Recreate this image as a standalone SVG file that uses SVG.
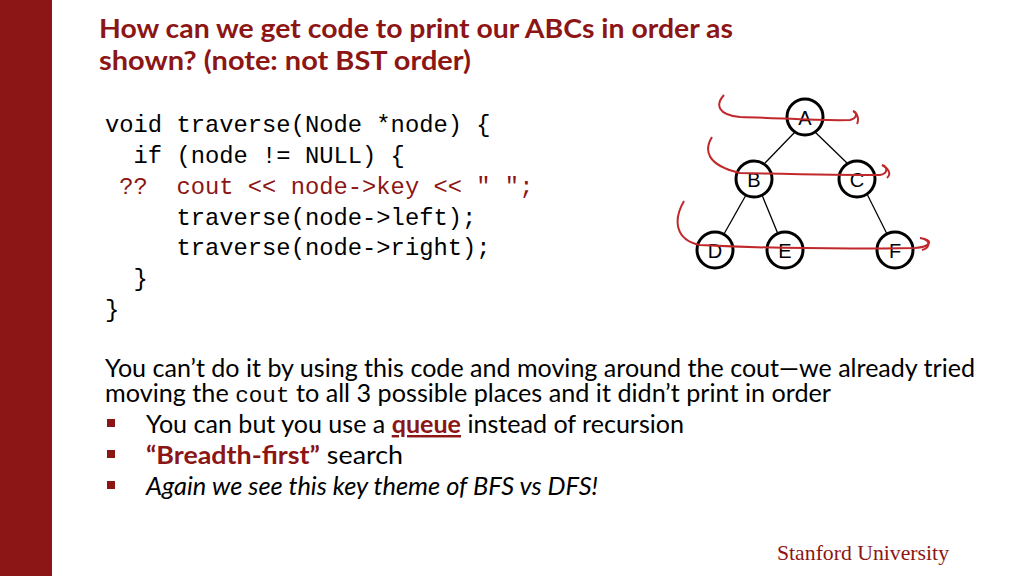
<svg xmlns="http://www.w3.org/2000/svg" width="1024" height="576" viewBox="0 0 1024 576">
<style>
.t{font-family:Lato,"Open Sans",sans-serif;font-weight:bold;fill:#8c1515;font-size:26px}
.c{font-family:"Liberation Mono",monospace;font-size:23.8px;fill:#000;white-space:pre}
.b{font-family:Lato,"Open Sans",sans-serif;font-size:24.5px;fill:#000}
.n circle{fill:#fff;stroke:#000;stroke-width:3}
.n text{font-family:"Liberation Sans",sans-serif;font-size:20px;text-anchor:middle}
.e line{stroke:#000;stroke-width:1.3}
.r{fill:none;stroke:#c0282b;stroke-width:2}
</style>
<rect width="1024" height="576" fill="#fff"/>
<rect x="0" y="0" width="52" height="576" fill="#8c1515"/>
<text class="t" x="99" y="38" textLength="634" lengthAdjust="spacingAndGlyphs">How can we get code to print our ABCs in order as</text>
<text class="t" x="99" y="70" textLength="372" lengthAdjust="spacingAndGlyphs">shown? (note: not BST order)</text>
<text class="c" x="105" y="132">void traverse(Node *node) {</text>
<text class="c" x="105" y="163">  if (node != NULL) {</text>
<text class="c" x="105" y="194" style="fill:#8c1515"> ??  cout &lt;&lt; node-&gt;key &lt;&lt; " ";</text>
<text class="c" x="105" y="225">     traverse(node-&gt;left);</text>
<text class="c" x="105" y="255">     traverse(node-&gt;right);</text>
<text class="c" x="105" y="286">  }</text>
<text class="c" x="105" y="317">}</text>
<g id="connectors" class="e">
<line x1="795" y1="132" x2="765" y2="163"/>
<line x1="815" y1="132" x2="847" y2="163"/>
<line x1="746" y1="195" x2="724" y2="234"/>
<line x1="762" y1="195" x2="778" y2="234"/>
<line x1="867" y1="194" x2="887" y2="234"/>
</g>
<g id="A" class="n"><circle cx="805" cy="117" r="18"/><text x="805" y="125">A</text></g>
<g id="B" class="n"><circle cx="754" cy="179" r="18"/><text x="754" y="187">B</text></g>
<g id="C" class="n"><circle cx="857" cy="179" r="18"/><text x="857" y="187">C</text></g>
<g id="D" class="n"><circle cx="715" cy="250" r="18"/><text x="715" y="258">D</text></g>
<g id="E" class="n"><circle cx="785" cy="250" r="18"/><text x="785" y="258">E</text></g>
<g id="F" class="n"><circle cx="895" cy="250" r="18"/><text x="895" y="258">F</text></g>
<path class="r" d="M724 95 C715 105 718 115 740 117 C780 118 820 121 850 120 C858 118 857 112 853 111 C858 113 859 120 857 124"/>
<path class="r" d="M712 137 C704 150 706 165 740 173 C790 174 840 175 880 175 C889 173 887 166 882 165 C888 168 892 174 887 178"/>
<path class="r" d="M684 201 C673 220 675 240 700 245 C760 248 850 249 915 248 C930 247 935 240 920 238 C932 240 930 248 922 250"/>
<text class="b" x="105" y="377" textLength="870" lengthAdjust="spacingAndGlyphs">You can’t do it by using this code and moving around the cout—we already tried</text>
<text class="b" x="105" y="402" textLength="726" lengthAdjust="spacingAndGlyphs">moving the <tspan font-family="Liberation Mono" font-size="22">cout</tspan> to all 3 possible places and it didn’t print in order</text>
<g fill="#8c1515"><rect x="107" y="419" width="8" height="8"/><rect x="107" y="450" width="8" height="8"/><rect x="107" y="481" width="8" height="8"/></g>
<text class="b" x="146" y="433" textLength="538" lengthAdjust="spacingAndGlyphs">You can but you use a <tspan font-weight="bold" fill="#8c1515" text-decoration="underline">queue</tspan> instead of recursion</text>
<text class="b" x="146" y="464" textLength="257" lengthAdjust="spacingAndGlyphs"><tspan font-weight="bold" fill="#8c1515">“Breadth-first”</tspan> search</text>
<text class="b" x="146" y="495" font-style="italic" textLength="452" lengthAdjust="spacingAndGlyphs">Again we see this key theme of BFS vs DFS!</text>
<text x="777" y="560" font-family="Liberation Serif,serif" font-size="21" fill="#8c1515" textLength="172" lengthAdjust="spacingAndGlyphs">Stanford University</text>
</svg>
